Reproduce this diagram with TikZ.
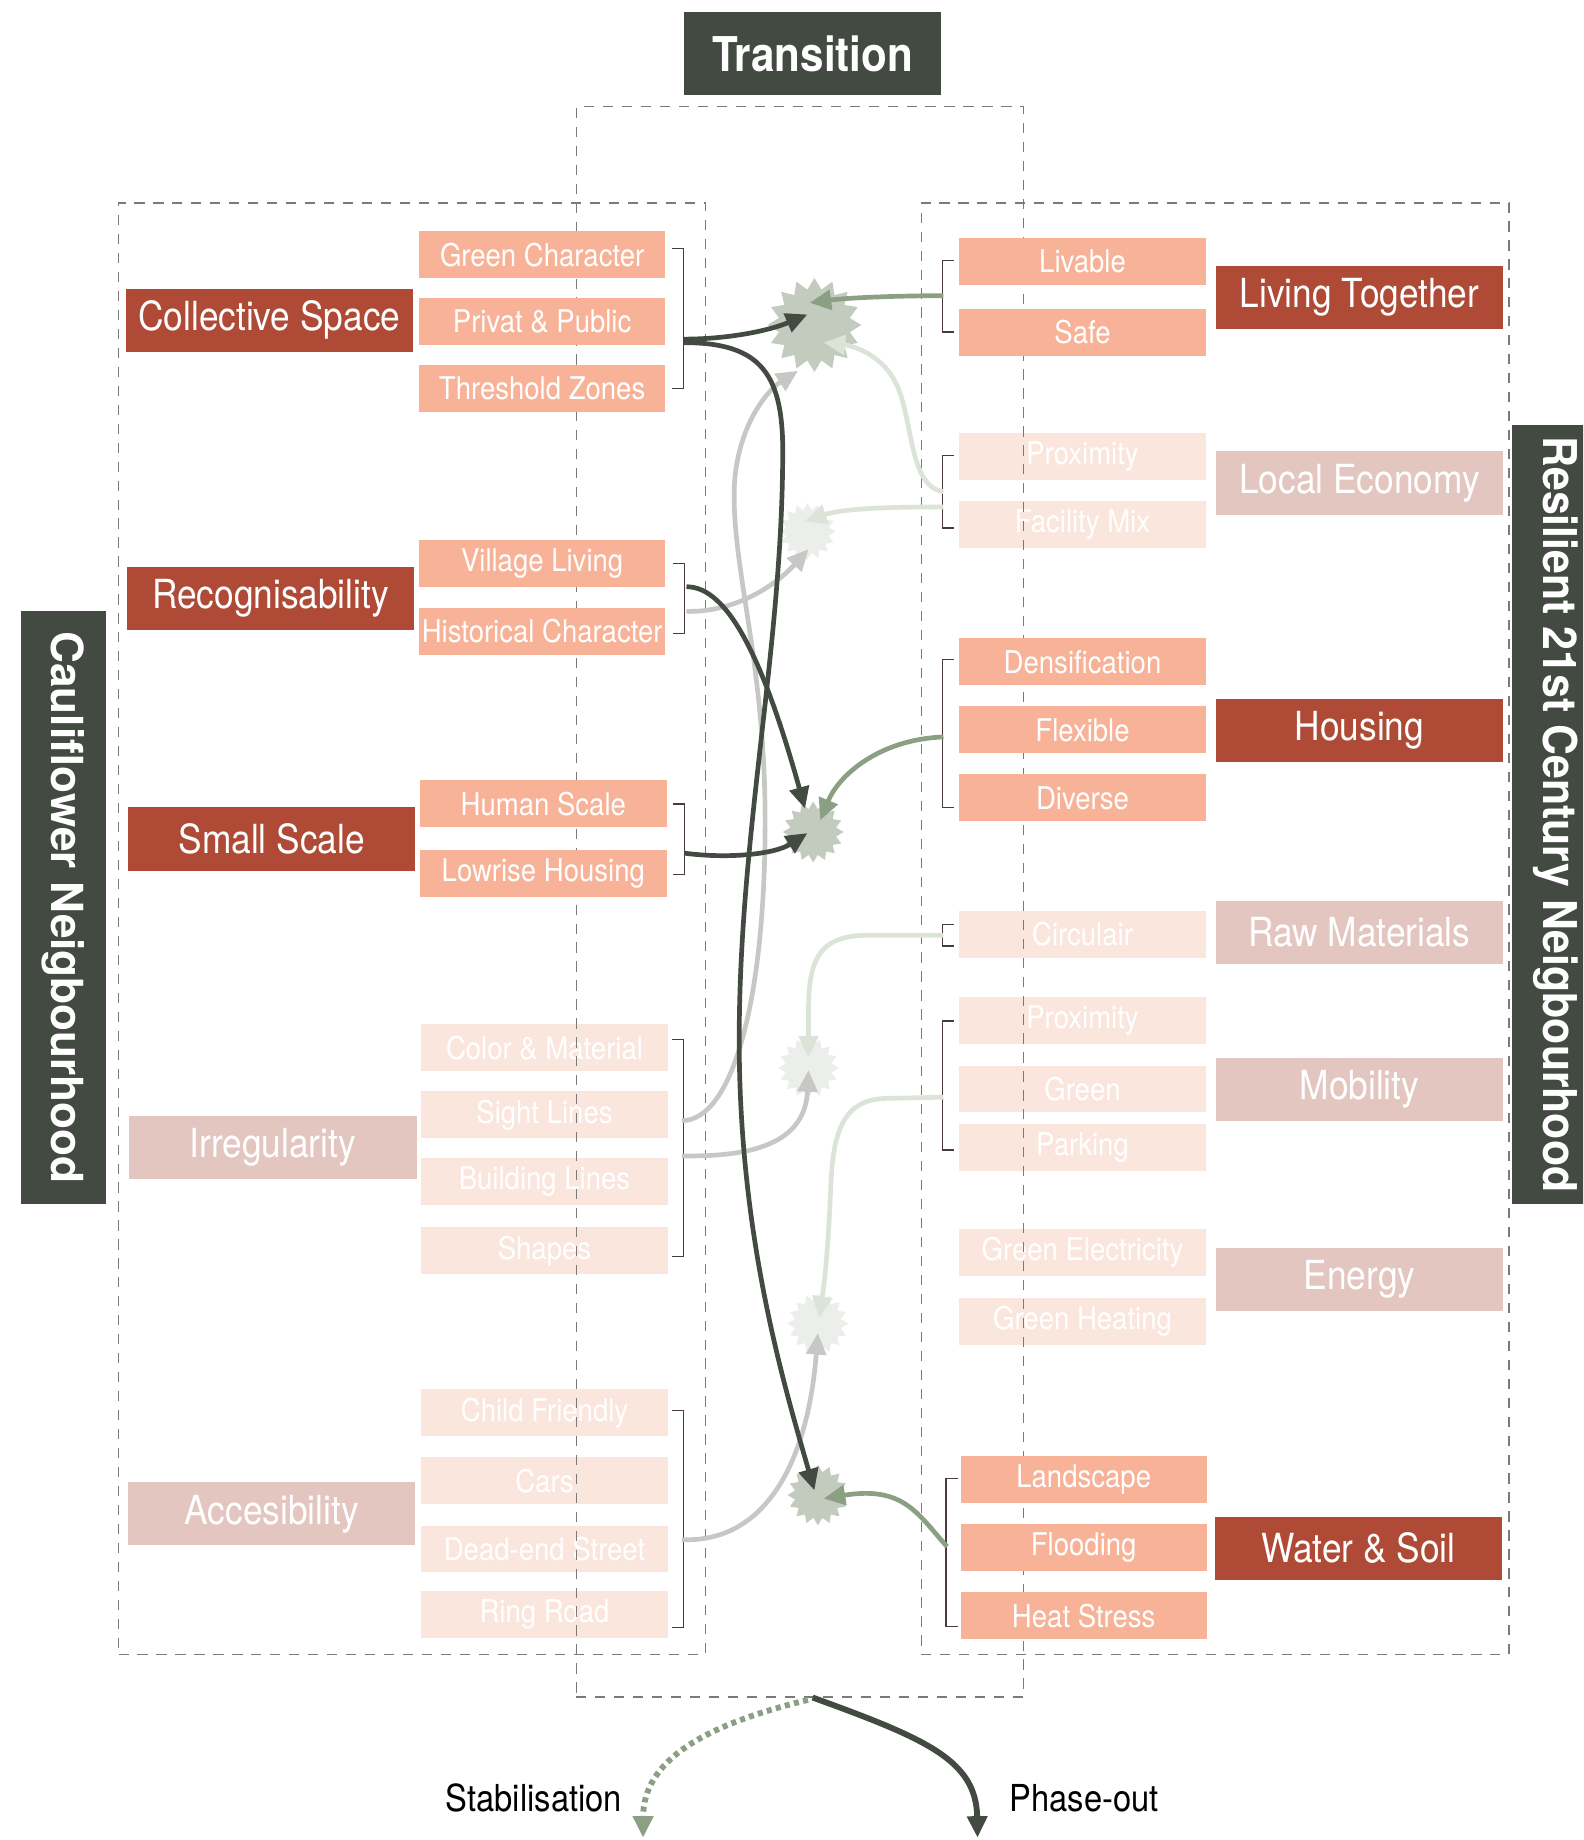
\documentclass[tikz,border=0pt]{standalone}
\usepackage{fontspec}
\setmainfont{TeX Gyre Heros}[FakeStretch=0.88]
\newfontfamily\widefont{TeX Gyre Heros}
\newfontfamily\stripfont{TeX Gyre Heros}[FakeStretch=0.92]
\usetikzlibrary{arrows.meta,shapes.geometric,calc}
\definecolor{dk}{HTML}{434A42}
\definecolor{rd}{HTML}{AE4A36}
\definecolor{sal}{HTML}{F7B297}
\definecolor{lpk}{HTML}{E3C6C0}
\definecolor{fpk}{HTML}{FBE6DE}
\definecolor{stf}{HTML}{C3CBBE}
\definecolor{stl}{HTML}{EBEEEA}
\definecolor{grn}{HTML}{8BA083}
\definecolor{lgr}{HTML}{DCE3D8}
\definecolor{gry}{HTML}{C7C8C6}
\definecolor{brk}{HTML}{4B3B38}
\definecolor{dsh}{HTML}{7A7A7A}
\begin{document}
\begin{tikzpicture}[x=0.6pt,y=-0.6pt,
  cat/.style={minimum width=147pt, minimum height=32.4pt, inner sep=0pt, text=white, font=\fontsize{20.5}{24}\selectfont},
  caton/.style={cat, fill=rd},
  catoff/.style={cat, fill=lpk},
  item/.style={minimum width=126pt, minimum height=24pt, inner sep=0pt, text=white, font=\fontsize{16}{19}\selectfont},
  itemon/.style={item, fill=sal},
  itemoff/.style={item, fill=fpk},
  strip/.style={fill=dk, text=white, inner sep=0pt},
  dbox/.style={draw=dsh, line width=0.7pt, dash pattern=on 5.2pt off 4.5pt, inner sep=0pt},
  brkt/.style={draw=brk, line width=0.7pt},
  hub/.style={star, star points=16, star point ratio=1.3, inner sep=0pt, minimum size=31pt, fill=stf},
  hubfaint/.style={hub, fill=stl},
  dkarrow/.style={draw=dk, line width=2.4pt, -{Triangle[length=11pt,width=10pt]}},
  grarrow/.style={draw=grn, line width=2.4pt, -{Triangle[length=11pt,width=10pt]}},
  lgarrow/.style={draw=lgr, line width=2.4pt, -{Triangle[length=11pt,width=10pt]}},
  gyarrow/.style={draw=gry, line width=2.4pt, -{Triangle[length=11pt,width=10pt]}},
  lbl/.style={font=\fontsize{19}{22}\selectfont, text=black, inner sep=0pt}
]
\clip (0,0) rectangle (1349,1568);

% side strips and title
\node[strip, rotate=-90, minimum width=303pt, minimum height=43.2pt,
      font=\widefont\bfseries\fontsize{22.6}{26}\selectfont] (cn) at (54,773.5) {Cauliflower Neigbourhood};
\node[strip, rotate=-90, minimum width=398.4pt, minimum height=45pt,
      font=\stripfont\bfseries\fontsize{23.8}{28}\selectfont] (rn) at (1326,694) {Resilient 21st Century Neigbourhood};
\node[strip, minimum width=131.4pt, minimum height=42.6pt,
      font=\bfseries\fontsize{24.5}{28}\selectfont] (title) at (692.5,45.5) {Transition};

% faint items (below dashed lines)
\node[itemoff] (cm) at (464,893) {Color \& Material};
\node[itemoff] (sl) at (464,950) {Sight Lines};
\node[itemoff] (bl) at (464,1007) {Building Lines};
\node[itemoff] (sh) at (464,1066) {Shapes};
\node[itemoff] (cf) at (464,1204) {Child Friendly};
\node[itemoff] (cars) at (464,1262) {Cars};
\node[itemoff] (de) at (464,1320) {Dead-end Street};
\node[itemoff] (rr) at (464,1376) {Ring Road};
\node[itemoff] (prox1) at (922.5,389) {Proximity};
\node[itemoff] (fm) at (922.5,447) {Facility Mix};
\node[itemoff] (circ) at (922.5,796) {Circulair};
\node[itemoff] (prox2) at (922.5,870) {Proximity};
\node[itemoff] (green) at (922.5,928) {Green};
\node[itemoff] (park) at (922.5,978) {Parking};
\node[itemoff] (gel) at (922.5,1067) {Green Electricity};
\node[itemoff] (gh) at (922.5,1126) {Green Heating};

% dashed frames
\node[dbox, minimum width=300pt, minimum height=742.2pt] (lframe) at (351,791.5) {};
\node[dbox, minimum width=300.6pt, minimum height=742.2pt] (rframe) at (1035.5,791.5) {};
\node[dbox, minimum width=228.6pt, minimum height=813pt] (tb) at (681.5,768.5) {};

% left categories
\node[caton] (cs) at (229.5,273) {Collective Space};
\node[caton] (rec) at (230.5,510) {Recognisability};
\node[caton] (ss) at (231.5,715) {Small Scale};
\node[catoff] (irr) at (232.5,978) {Irregularity};
\node[catoff] (acc) at (231.5,1290) {Accesibility};

% left active items
\node[itemon] (gc) at (462,217) {Green Character};
\node[itemon] (pp) at (462,274) {Privat \& Public};
\node[itemon] (tz) at (462,331) {Threshold Zones};
\node[itemon] (vl) at (462,480) {Village Living};
\node[itemon] (hc) at (462,538) {Historical Character};
\node[itemon] (hs) at (463,685) {Human Scale};
\node[itemon] (lh) at (463,744) {Lowrise Housing};

% right active items
\node[itemon] (liv) at (922.5,223) {Livable};
\node[itemon] (safe) at (922.5,283) {Safe};
\node[itemon] (dens) at (922.5,564) {Densification};
\node[itemon] (flex) at (922.5,622) {Flexible};
\node[itemon] (div) at (922.5,680) {Diverse};
\node[itemon] (land) at (923.5,1261) {Landscape};
\node[itemon] (flood) at (923.5,1319) {Flooding};
\node[itemon] (heat) at (923.5,1377) {Heat Stress};

% right categories
\node[caton] (lt) at (1158.5,253.5) {Living Together};
\node[catoff] (le) at (1158.5,411.5) {Local Economy};
\node[caton] (hou) at (1158.5,622.5) {Housing};
\node[catoff] (rm) at (1158.5,794.5) {Raw Materials};
\node[catoff] (mob) at (1158.5,928.5) {Mobility};
\node[catoff] (en) at (1158.5,1090.5) {Energy};
\node[caton] (ws) at (1157.5,1319.5) {Water \& Soil};

% brackets
\draw[brkt] ($(gc.east)+(5,-5)$) -- ++(10,0) |- ($(tz.east)+(5,0)$);
\draw[brkt] ($(vl.east)+(6,0)$) -- ++(10,0) |- ($(hc.east)+(6,2)$);
\draw[brkt] ($(hs.east)+(5,0)$) -- ++(10,0) |- ($(lh.east)+(5,1)$);
\draw[brkt] ($(cm.east)+(3,-7)$) -- ++(10,0) |- ($(sh.east)+(3,5)$);
\draw[brkt] ($(cf.east)+(3,-2)$) -- ++(10,0) |- ($(rr.east)+(3,11)$);
\draw[brkt] ($(liv.west)+(-4,-1)$) -- ++(-10,0) |- ($(safe.west)+(-4,0)$);
\draw[brkt] ($(prox1.west)+(-4,-1)$) -- ++(-10,0) |- ($(fm.west)+(-4,3)$);
\draw[brkt] ($(dens.west)+(-4,-2)$) -- ++(-10,0) |- ($(div.west)+(-4,8)$);
\draw[brkt] ($(circ.west)+(-4,-8)$) -- ++(-10,0) |- ($(circ.west)+(-4,10)$);
\draw[brkt] ($(prox2.west)+(-4,0)$) -- ++(-10,0) |- ($(park.west)+(-4,2)$);
\draw[brkt] ($(land.west)+(-2,-1)$) -- ++(-10,0) |- ($(heat.west)+(-2,9)$);

% hubs
\node[hub, minimum size=48pt] (sA) at (694,277) {};
\node[hubfaint, minimum size=29pt] (sB) at (688,453) {};
\node[hub] (sC) at (693,709) {};
\node[hubfaint] (sD) at (689,910) {};
\node[hubfaint] (sE) at (697,1128) {};
\node[hub] (sF) at (697,1274) {};

% connector start points
\coordinate (csA) at (583,289);
\coordinate (csB) at (583,292);
\coordinate (recA) at (585,500);
\coordinate (recB) at (585,521);
\coordinate (ssA) at (583,727);
\coordinate (irrA) at (581,955);
\coordinate (irrB) at (581,985);
\coordinate (accA) at (581,1312);
\coordinate (ltA) at (804,252);
\coordinate (leA) at (804,419);
\coordinate (leB) at (804,432);
\coordinate (houA) at (804,628);
\coordinate (rmA) at (804,797);
\coordinate (mobA) at (804,935);
\coordinate (wsA) at (807,1318);
\coordinate (stabEnd) at (548,1566);
\coordinate (phaseEnd) at (833,1566);

% faint connectors
\draw[gyarrow] (irrA) .. controls (625,955) and (652,850) .. (652,700)
   .. controls (652,560) and (622,480) .. (626,410)
   .. controls (630,360) and (655,332) .. ($(sA)+(-14,39)$);
\draw[gyarrow] (irrB) .. controls (640,986) and (686,975) .. ($(sD)+(0,2)$);
\draw[gyarrow] (accA) .. controls (650,1315) and (688,1250) .. ($(sE)+(0,8)$);
\draw[gyarrow] (recB) .. controls (625,522) and (660,500) .. ($(sB)+(1,15)$);
\draw[lgarrow] (leA) .. controls (775,415) and (778,360) .. (765,330)
   .. controls (755,305) and (730,295) .. ($(sA)+(8,15)$);
\draw[lgarrow] (leB) .. controls (760,432) and (720,433) .. ($(sB)+(-2,-9)$);
\draw[lgarrow] (rmA) -- (740,797) .. controls (700,797) and (689,815) .. (689,860) -- ($(sD)+(0,-9)$);
\draw[lgarrow] (mobA) -- (755,936) .. controls (718,937) and (710,965) .. (708,1010)
   .. controls (706,1060) and (703,1090) .. ($(sE)+(1,-5)$);

% strong connectors
\draw[dkarrow] (csB) .. controls (650,292) and (668,320) .. (667,390)
   .. controls (666,560) and (628,720) .. (630,900)
   .. controls (632,1060) and (668,1180) .. ($(sF)+(-3,-4)$);
\draw[dkarrow] (csA) .. controls (620,289) and (655,282) .. ($(sA)+(-6,-9)$);
\draw[dkarrow] (recA) .. controls (620,500) and (650,560) .. ($(sC)+(-7,-20)$);
\draw[dkarrow] (ssA) .. controls (620,732) and (660,728) .. ($(sC)+(-5,1)$);
\draw[grarrow] (ltA) .. controls (760,252) and (720,254) .. ($(sA)+(-4,-19)$);
\draw[grarrow] (houA) .. controls (750,630) and (715,660) .. ($(sC)+(6,-10)$);
\draw[grarrow] (wsA) .. controls (782,1290) and (770,1266) .. ($(sF)+(5,3)$);

% outcomes
\draw[draw=dk, line width=3pt, -{Triangle[length=11pt,width=10pt]}]
  ($(tb.south)+(11,0)$) .. controls (790,1482) and (832,1500) .. (phaseEnd);
\draw[draw=grn, line width=3pt, dash pattern=on 2.6pt off 2.2pt, -{Triangle[length=11pt,width=10pt]}]
  ($(tb.south)+(7,2)$) .. controls (600,1470) and (548,1500) .. (stabEnd);
\node[lbl] (stab) at (455,1532) {Stabilisation};
\node[lbl] (phase) at (924,1532) {Phase-out};
\end{tikzpicture}
\end{document}
